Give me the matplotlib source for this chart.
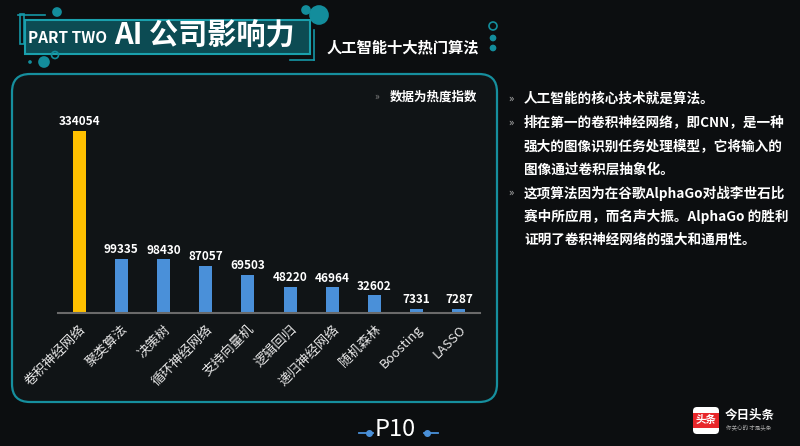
import matplotlib
matplotlib.use('Agg')
import matplotlib.pyplot as plt
from matplotlib.patches import FancyBboxPatch, Rectangle, Circle

plt.rcParams['font.family'] = ['Noto Sans CJK SC', 'DejaVu Sans']

# chart data
algos = ['卷积神经网络', '聚类算法', '决策树', '循环神经网络', '支持向量机',
         '逻辑回归', '递归神经网络', '随机森林', 'Boosting', 'LASSO']
heat = [334054, 99335, 98430, 87057, 69503, 48220, 46964, 32602, 7331, 7287]
bar_colors = ['#ffc000'] + ['#4a90d9'] * 9

title_small = 'PART TWO'
title_big = 'AI 公司影响力'
subtitle = '人工智能十大热门算法'
note = '数据为热度指数'
bullets = [['人工智能的核心技术就是算法。'],
           ['排在第一的卷积神经网络，即CNN，是一种', '强大的图像识别任务处理模型，它将输入的', '图像通过卷积层抽象化。'],
           ['这项算法因为在谷歌AlphaGo对战李世石比', '赛中所应用，而名声大振。AlphaGo 的胜利', '证明了卷积神经网络的强大和通用性。']]

W, H = 800, 446
fig = plt.figure(figsize=(W / 100, H / 100), dpi=100, facecolor='#0c0e10')

# background layer in pixel coordinates
bg = fig.add_axes([0, 0, 1, 1])
bg.set_xlim(0, W); bg.set_ylim(H, 0); bg.axis('off')
bg.add_patch(FancyBboxPatch((12, 74), 485, 328, boxstyle='round,pad=0,rounding_size=18',
                            fc='#101416', ec='#168f9e', lw=1.6))

# title box and decorations
bg.add_patch(Rectangle((20, 14), 4, 30, fc='none', ec='#1596a6', lw=1.2))
bg.add_patch(Rectangle((25, 20), 285, 34, fc='#0c4b53', ec='#1aa0ad', lw=1.5))
bg.plot([18, 45], [15, 15], color='#1596a6', lw=1.2)
bg.plot([290, 314], [60, 60], color='#1596a6', lw=1.2)
bg.plot([314, 314], [30, 60], color='#1596a6', lw=1.2)
for (cx, cy, r, fill) in [(57, 12, 4, True), (306, 10, 4, True), (319, 15, 9, True),
                          (44, 62, 5, True), (55, 55, 3.5, False), (30, 62, 1, True),
                          (493, 26, 4, False), (493, 38, 2.5, True), (493, 48, 2.5, True)]:
    bg.add_patch(Circle((cx, cy), r, fc='#138d9c' if fill else 'none', ec='#138d9c', lw=1.2))
bg.text(28, 43, title_small, color='white', fontsize=11, fontweight='bold', va='baseline')
bg.text(114, 45, title_big, color='white', fontsize=21, fontweight='bold', va='baseline')
bg.text(327, 52, subtitle, color='white', fontsize=11, fontweight='bold', va='baseline')

# note in chart
bg.text(374, 97, '»', color='#888888', fontsize=7, va='center')
bg.text(390, 97, note, color='white', fontsize=9, fontweight='bold', va='center')

# right bullets
y = 99
for para in bullets:
    bg.text(508, y, '»', color='#bbbbbb', fontsize=8, va='center')
    for line in para:
        bg.text(524, y, line, color='white', fontsize=9.8, fontweight='bold', va='center')
        y += 23.5

# page number
bg.text(395, 430, 'P10', color='white', fontsize=17, ha='center', va='center', fontweight='light')
for x0, x1 in [(359, 373), (424, 438)]:
    bg.plot([x0, x1], [433, 433], color='#4a90d9', lw=1.3)
bg.plot([369, 427], [433, 433], 'o', color='#4a90d9', ms=4)

# logo
bg.add_patch(FancyBboxPatch((693, 407), 26, 27, boxstyle='round,pad=0,rounding_size=4',
                            fc='white', ec='none'))
bg.add_patch(Rectangle((693, 413), 26, 15, fc='#e8262a', ec='none'))
bg.text(706, 420.5, '头条', color='white', fontsize=7.5, fontweight='bold', ha='center', va='center')
bg.text(725, 415, '今日头条', color='white', fontsize=9, fontweight='bold', va='center')
bg.text(726, 428, '你关心的 才是头条', color='#aaaaaa', fontsize=4, va='center')

# bar chart
ax = fig.add_axes([58 / W, 1 - 313 / H, 422 / W, 213 / H])
ax.set_facecolor('none')
x = range(len(algos))
ax.bar(x, heat, width=0.31, color=bar_colors, zorder=2)
ax.set_xlim(-0.5, len(algos) - 0.5)
ax.set_ylim(0, 334054 * 213 / 182)
for i, v in enumerate(heat):
    ax.text(i, v + 5000, str(v), color='white', fontsize=8.5, fontweight='bold',
            ha='center', va='bottom')
for s in ['top', 'right', 'left']:
    ax.spines[s].set_visible(False)
ax.spines['bottom'].set_color('#6a6a6a')
ax.spines['bottom'].set_linewidth(1.5)
ax.set_yticks([])
ax.set_xticks(list(x))
ax.set_xticklabels(algos, rotation=45, ha='right', rotation_mode='anchor',
                   color='#e6e6e6', fontsize=9.5)
ax.tick_params(axis='x', length=0, pad=7)

fig.savefig('out.png', dpi=100, facecolor=fig.get_facecolor())
